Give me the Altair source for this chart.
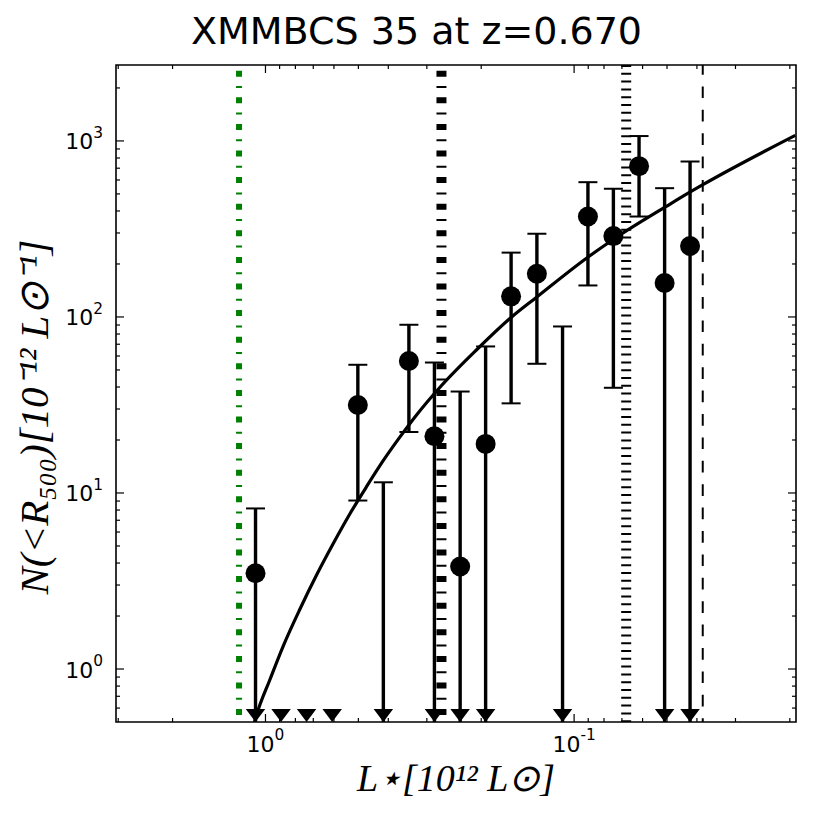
import altair as alt
import pandas as pd

# ---------------- data ----------------
# axis ranges (x axis is reversed: bright on the left)
x_range = [0.0191, 3.05]
y_range = [0.5, 2700]

# measured points (circles) with error bars; None in lower = arrow to axis bottom
pt_x = [1.077, 0.502, 0.343, 0.2835, 0.234, 0.1935, 0.160, 0.132, 0.0902, 0.0746, 0.0616, 0.0509, 0.0421]
pt_y = [3.5, 31.6, 56.2, 21.0, 3.82, 19.0, 131, 176, 372, 288, 719, 156, 253]
pt_hi = [8.17, 53.5, 90.3, 55.1, 37.7, 68.0, 232, 297, 583, 535, 1066, 539, 764]
pt_lo = [None, 9.06, 22.2, None, None, None, 32.3, 54.2, 151, 39.6, 372, None, None]

# pure upper limits (no circle)
lim_x = [0.415, 0.109]
lim_hi = [11.5, 88.3]

# bins with down-pointing arrow heads on the bottom axis
tri_x = [1.077, 0.890, 0.736, 0.608, 0.415, 0.2835, 0.234, 0.1935, 0.109, 0.0509, 0.0421]

# fitted curve
curve_x = [1.0854, 1.068, 0.967, 0.876, 0.773, 0.683, 0.603, 0.533, 0.470, 0.416, 0.367,
           0.324, 0.2724, 0.2073, 0.1596, 0.1326, 0.0905, 0.0751, 0.0503, 0.0423, 0.0384, 0.0192]
curve_y = [0.5, 0.551, 0.872, 1.351, 2.193, 3.42, 5.166, 7.6, 10.89, 15.2, 20.75,
           27.75, 39.76, 64.9, 99.7, 129.1, 217.8, 273.8, 424.5, 509.8, 562.3, 1075]

# vertical reference lines
vline_green = [1.218]
vline_dashdot = [0.269]
vline_dotted = [0.0678]
vline_dashed = [0.0383]

# tick positions and labels (base 10 with exponent)
x_major = [1.0, 0.1]
x_major_exp = ["0", "-1"]
x_minor = [3, 2, 0.9, 0.8, 0.7, 0.6, 0.5, 0.4, 0.3, 0.2,
           0.09, 0.08, 0.07, 0.06, 0.05, 0.04, 0.03, 0.02]
y_major = [1, 10, 100, 1000]
y_major_exp = ["0", "1", "2", "3"]
y_minor = [0.6, 0.7, 0.8, 0.9, 2, 3, 4, 5, 6, 7, 8, 9,
           20, 30, 40, 50, 60, 70, 80, 90,
           200, 300, 400, 500, 600, 700, 800, 900, 2000]

title_text = "XMMBCS 35 at z=0.670"
xlabel_text = "L⋆[10¹² L⊙]"
ylabel_text = "N(<R₅₀₀)[10⁻¹² L⊙⁻¹]"

# ---------------- layout ----------------
W, H = 680, 657
MAJ, MIN = 8, 4
TICK_FONT = 22
EXP_FONT = 15.4

xscale = alt.Scale(type="log", domain=x_range, reverse=True, nice=False)
yscale = alt.Scale(type="log", domain=y_range, nice=False)


def X(field="x"):
    return alt.X(f"{field}:Q", scale=xscale, axis=None)


def Y(field="y"):
    return alt.Y(f"{field}:Q", scale=yscale, axis=None)


pts = pd.DataFrame({"x": pt_x, "y": pt_y, "hi": pt_hi,
                    "lo": [v if v is not None else y_range[0] for v in pt_lo]})
lows = pd.DataFrame({"x": [x for x, l in zip(pt_x, pt_lo) if l is not None],
                     "y": [l for l in pt_lo if l is not None]})
lims = pd.DataFrame({"x": lim_x, "hi": lim_hi, "lo": [y_range[0]] * len(lim_x)})
caps_top = pd.DataFrame({"x": pt_x + lim_x, "y": pt_hi + lim_hi})
tris = pd.DataFrame({"x": tri_x, "y": [y_range[0]] * len(tri_x)})
curve = pd.DataFrame({"x": curve_x, "y": curve_y})

dashdot = [6, 9.3, 2, 9.3]


def vline(vals, color, width, dash, offset=0):
    return alt.Chart(pd.DataFrame({"x": vals})).mark_rule(
        color=color, strokeWidth=width, strokeDash=dash, strokeDashOffset=offset,
        strokeCap="butt").encode(x=X(), y=alt.value(0), y2=alt.value(H))


layers = [
    vline(vline_green, "#008000", 6, dashdot, 20.9),
    vline(vline_dashdot, "black", 10, dashdot, 20.9),
    vline(vline_dotted, "black", 10, [2, 5.8], 0),
    vline(vline_dashed, "black", 2, [11.7, 11.7], 2),
    alt.Chart(curve).mark_line(color="black", strokeWidth=3.2, interpolate="monotone",
                               clip=True).encode(x=X(), y=Y()),
    alt.Chart(pts).mark_rule(color="black", strokeWidth=3.4).encode(
        x=X(), y=Y("lo"), y2="hi:Q"),
    alt.Chart(lims).mark_rule(color="black", strokeWidth=3.4).encode(
        x=X(), y=Y("lo"), y2="hi:Q"),
    alt.Chart(caps_top).mark_point(shape="stroke", size=361, strokeWidth=2,
                                   color="black", opacity=1).encode(x=X(), y=Y()),
    alt.Chart(lows).mark_point(shape="stroke", size=361, strokeWidth=2,
                               color="black", opacity=1).encode(x=X(), y=Y()),
    alt.Chart(pts).mark_point(shape="circle", filled=True, size=400, color="black",
                              opacity=1).encode(x=X(), y=Y()),
    alt.Chart(tris).mark_point(shape="M-1,-1.33L1,-1.33L0,0Z", filled=True, size=380,
                               color="black", opacity=1).encode(x=X(), y=Y()),
]

# inward ticks on all four sides
for vals, ln in ((x_major, MAJ), (x_minor, MIN)):
    d = pd.DataFrame({"x": vals})
    layers.append(alt.Chart(d).mark_rule(color="black", strokeWidth=1.2).encode(
        x=X(), y=alt.value(H), y2=alt.value(H - ln)))
    layers.append(alt.Chart(d).mark_rule(color="black", strokeWidth=1.2).encode(
        x=X(), y=alt.value(0), y2=alt.value(ln)))
for vals, ln in ((y_major, MAJ), (y_minor, MIN)):
    d = pd.DataFrame({"y": vals})
    layers.append(alt.Chart(d).mark_rule(color="black", strokeWidth=1.2).encode(
        y=Y(), x=alt.value(0), x2=alt.value(ln)))
    layers.append(alt.Chart(d).mark_rule(color="black", strokeWidth=1.2).encode(
        y=Y(), x=alt.value(W), x2=alt.value(W - ln)))

# tick labels: "10" plus a raised exponent
# x axis (one layer per label so each can be centred as a whole)
base_w = 1.272 * TICK_FONT
for v, e in zip(x_major, x_major_exp):
    exp_w = (0.361 * EXP_FONT if e.startswith("-") else 0) + 0.636 * EXP_FONT
    shift = -(base_w + exp_w) / 2 + base_w
    d = pd.DataFrame({"x": [v], "b": ["10"], "e": [e]})
    layers.append(alt.Chart(d).mark_text(
        font="DejaVu Sans", fontSize=TICK_FONT, color="black", align="right",
        baseline="alphabetic", dx=shift).encode(x=X(), y=alt.value(H + 30), text="b:N"))
    layers.append(alt.Chart(d).mark_text(
        font="DejaVu Sans", fontSize=EXP_FONT, color="black", align="left",
        baseline="alphabetic", dx=shift).encode(x=X(), y=alt.value(H + 17.5), text="e:N"))

# y axis
dy_lab = pd.DataFrame({"y": y_major, "b": ["10"] * len(y_major), "e": y_major_exp})
layers.append(alt.Chart(dy_lab).mark_text(
    font="DejaVu Sans", fontSize=TICK_FONT, color="black", align="right",
    baseline="alphabetic", dy=8.5).encode(y=Y(), x=alt.value(-13 - 0.636 * EXP_FONT), text="b:N"))
layers.append(alt.Chart(dy_lab).mark_text(
    font="DejaVu Sans", fontSize=EXP_FONT, color="black", align="right",
    baseline="alphabetic", dy=-3).encode(y=Y(), x=alt.value(-13), text="e:N"))

# title and axis titles
layers.append(alt.Chart(pd.DataFrame({"t": [title_text]})).mark_text(
    font="DejaVu Sans", fontSize=38, color="black", align="center",
    baseline="alphabetic").encode(text="t:N", x=alt.value(300.5), y=alt.value(-21)))
layers.append(alt.Chart(pd.DataFrame({"t": [xlabel_text]})).mark_text(
    font="Liberation Serif", fontStyle="italic", fontSize=38, color="black",
    align="center", baseline="alphabetic").encode(
    text="t:N", x=alt.value(W / 2), y=alt.value(726)))
layers.append(alt.Chart(pd.DataFrame({"t": [ylabel_text]})).mark_text(
    font="Liberation Serif", fontStyle="italic", fontSize=41, color="black",
    align="center", baseline="alphabetic", angle=270).encode(
    text="t:N", x=alt.value(-68), y=alt.value(352)))

chart = alt.layer(*layers).properties(
    width=W, height=H,
    autosize=alt.AutoSizeParams(type="none"),
    padding={"left": 108, "top": 57, "right": 20, "bottom": 100},
).configure_view(stroke="black", strokeWidth=1.6)

chart.save("out.html", embed_options={"renderer": "svg", "actions": False})
